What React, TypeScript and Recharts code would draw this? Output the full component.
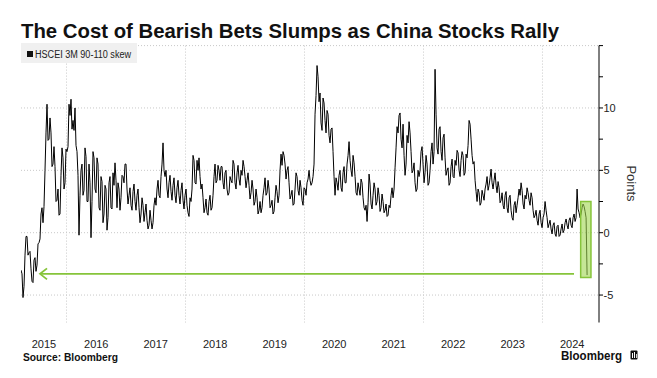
import React from 'react';
import { LineChart, Line, XAxis, YAxis, CartesianGrid, ReferenceLine, ReferenceArea } from 'recharts';

// HSCEI 3M 90-110 skew, sampled every ~6 days starting late March 2015
const START_YEAR = 2015.235;
const STEP_YEARS = 6.14 / 365.25;
const skew: number[] = [
  -3.0, -3.3, -5.2, -4.3, -1.8, -0.3, -0.3, -1.8, -1.6, -1.5,
  -2.9, -3.9, -4.0, -2.2, -2.0, -3.1, -2.6, -0.9, -0.8, -0.5,
  1.5, 2.0, 0.8, 2.1, 5.0, 8.0, 10.3, 7.4, 7.5, 9.2,
  8.0, 5.3, 5.5, 6.9, 5.3, 2.5, 2.6, 3.5, 1.4, 1.5,
  4.6, 6.8, 6.0, 3.5, 4.0, 6.7, 6.5, 6.9, 10.3, 9.4,
  10.7, 8.3, 9.0, 8.2, 10.0, 7.0, 6.5, 4.6, -0.2, 3.0,
  5.0, 5.5, 3.0, 3.4, 6.8, 6.1, 2.5, 2.5, 5.5, 4.0,
  -0.4, 2.5, 6.5, 6.0, 3.5, 3.2, 6.0, 5.5, 2.0, 1.8,
  4.5, 4.1, 0.8, 1.5, 3.8, 3.5, 0.2, 1.2, 4.0, 4.5,
  2.0, 1.9, 4.8, 3.8, 5.6, 4.2, 2.0, 4.0, 3.5, 1.8,
  2.8, 4.6, 4.5, 4.0, 5.5, 5.5, 3.5, 2.3, 3.0, 3.6,
  2.2, 1.8, 3.3, 3.9, 2.5, 1.8, 3.0, 3.5, 2.0, 0.8,
  1.5, 2.8, 2.2, 0.9, 1.6, 2.3, 1.0, 0.3, 0.6, 1.8,
  1.0, 0.3, 0.8, 2.2, 2.8, 2.2, 3.5, 4.2, 3.0, 2.8,
  4.5, 5.5, 7.2, 5.0, 4.5, 5.0, 3.5, 2.8, 4.0, 4.6,
  3.3, 2.6, 3.8, 4.4, 3.0, 2.4, 3.6, 4.2, 3.0, 2.3,
  3.4, 4.0, 2.6, 1.9, 3.0, 3.5, 2.2, 1.6, 1.3, 2.8,
  2.5, 3.5, 6.2, 5.8, 4.0, 3.9, 5.8, 5.0, 6.0, 4.5,
  3.5, 3.9, 2.8, 1.6, 2.0, 2.7, 1.6, 1.4, 2.5, 3.0,
  1.8, 2.0, 3.0, 4.5, 5.5, 4.0, 4.2, 5.4, 5.0, 4.2,
  5.3, 5.3, 4.0, 3.5, 4.8, 5.0, 3.5, 3.0, 3.2, 4.5,
  4.2, 4.0, 5.8, 5.5, 4.0, 3.5, 4.8, 5.4, 4.3, 3.8,
  5.0, 4.6, 5.8, 5.3, 4.5, 3.6, 4.2, 4.8, 3.8, 2.7,
  3.2, 4.2, 3.5, 2.2, 2.5, 3.5, 2.8, 1.5, 1.8, 2.5,
  1.6, 2.0, 3.0, 3.6, 4.4, 3.0, 3.2, 4.2, 3.5, 2.0,
  2.2, 2.6, 1.5, 1.7, 2.8, 3.8, 3.3, 2.4, 3.0, 5.0,
  6.3, 5.4, 6.5, 6.2, 5.5, 4.3, 5.0, 5.3, 4.0, 2.7,
  3.0, 3.4, 2.2, 2.3, 3.5, 4.8, 4.5, 3.4, 3.0, 4.2,
  3.6, 2.6, 2.2, 3.6, 3.5, 3.0, 4.0, 4.3, 5.0, 4.2,
  3.8, 4.0, 4.5, 5.5, 9.5, 11.0, 13.4, 12.5, 10.5, 11.2,
  8.8, 8.2, 10.8, 10.4, 9.0, 8.0, 9.8, 9.5, 7.8, 7.2,
  8.3, 8.4, 6.5, 4.5, 3.0, 4.4, 4.0, 3.4, 4.6, 5.0,
  3.6, 3.3, 4.8, 5.3, 4.0, 4.0, 5.5, 6.2, 7.3, 5.8,
  5.0, 4.5, 6.2, 5.6, 4.5, 3.2, 3.0, 4.0, 3.5, 3.0,
  4.3, 4.0, 2.8, 2.0, 1.8, 2.2, 0.9, 2.4, 4.7, 3.9,
  2.3, 1.9, 3.0, 4.0, 3.5, 2.2, 2.5, 3.6, 3.0, 1.7,
  2.0, 3.1, 2.5, 1.6, 1.8, 2.3, 1.3, 1.4, 2.2, 2.0,
  3.0, 3.6, 2.8, 3.5, 5.2, 6.8, 8.5, 8.0, 9.4, 9.6,
  7.5, 6.8, 8.7, 6.2, 4.6, 5.5, 7.8, 7.2, 8.9, 8.0,
  6.5, 4.8, 5.0, 5.6, 4.0, 3.3, 3.5, 5.0, 4.5, 5.0,
  6.5, 6.9, 5.5, 4.0, 4.8, 6.2, 5.5, 3.8, 4.0, 5.0,
  6.5, 7.2, 5.5, 6.5, 13.1, 9.5, 6.8, 6.3, 8.3, 8.5,
  6.5, 5.8, 7.6, 7.9, 6.0, 4.6, 5.0, 5.2, 3.8, 4.0,
  5.3, 5.9, 4.5, 4.4, 5.8, 5.4, 6.6, 6.4, 5.0, 4.5,
  5.8, 6.5, 6.2, 4.6, 4.8, 6.3, 6.0, 7.0, 9.0, 8.7,
  7.5, 6.2, 5.5, 5.7, 4.2, 3.3, 2.5, 3.5, 3.2, 2.2,
  2.4, 3.4, 3.0, 2.6, 3.5, 3.9, 4.5, 3.4, 3.8, 4.4,
  5.1, 4.0, 3.5, 4.2, 4.8, 3.8, 3.2, 4.1, 3.6, 2.4,
  2.6, 3.2, 2.2, 1.9, 3.0, 3.3, 2.0, 1.6, 2.8, 3.0,
  1.8, 1.2, 1.0, 2.2, 2.5, 1.6, 2.2, 2.8, 3.5, 3.0,
  4.0, 3.4, 2.3, 1.9, 3.0, 2.7, 3.6, 3.2, 2.6, 2.2,
  3.2, 2.8, 1.8, 1.2, 1.4, 1.8, 1.0, 0.6, 1.5, 1.8,
  0.8, 0.4, 1.2, 1.5, 2.5, 1.8, 1.2, 0.4, 0.7, 1.0,
  0.3, -0.1, 0.6, 0.8, -0.1, -0.3, 0.5, 0.6, -0.3, -0.2,
  0.3, 0.7, 0.0, 0.2, 0.8, 1.1, 0.6, 0.3, 1.0, 1.2,
  0.6, 0.4, 1.2, 1.5, 0.9, 1.2, 3.5, 1.9, 1.6, 1.2,
  1.5, 2.0, 2.3, 2.1, 1.7, 1.2, -3.4,
];

const xTickLabels = ['2015', '2016', '2017', '2018', '2019', '2020', '2021', '2022', '2023', '2024'];
const xTickPositions = [2015.62, 2016.5, 2017.5, 2018.5, 2019.5, 2020.5, 2021.5, 2022.5, 2023.5, 2024.5];
const gridYears = [2016, 2018, 2020, 2022, 2024];
const gridValues = [-5, 0, 5, 10, 15];
const yTicks = [-5, -2.5, 0, 2.5, 5, 7.5, 10, 12.5, 15];
const xDomain = [2015.235, 2024.95];
const yDomain = [-7.2, 15];

// annotation: arrow back to the 2015 level, box around the latest drop
const arrowLevel = -3.3;
const arrowTipYear = 2015.555;
const arrowTailYear = 2024.53;
const boxYears = [2024.642, 2024.815];
const boxValues = [-3.6, 2.5];

const data = skew.map((v, i) => ({ t: START_YEAR + i * STEP_YEARS, v }));

const FONT = '"Liberation Sans", Arial, sans-serif';
const GREEN = '#86c43a';

const XTick = (props: any) => {
  const { x, y, index } = props;
  return (
    <text x={x} y={y + 25} textAnchor="middle" fontSize={11} fill="#222" fontFamily={FONT}>
      {xTickLabels[index]}
    </text>
  );
};

const YTick = (props: any) => {
  const { x, y, payload } = props;
  const v = payload.value;
  const labelled = v % 5 === 0 && v !== 15;
  return (
    <g>
      <line x1={x} x2={x + 4} y1={y} y2={y} stroke="#000" strokeWidth={1} />
      {labelled && (
        <text x={x + 4.5} y={y + 4} fontSize={11} fill="#222" fontFamily={FONT}>
          {String(v)}
        </text>
      )}
    </g>
  );
};

const ArrowShape = (props: any) => {
  const { x1, y1, x2, y2 } = props;
  const tipX = Math.min(x1, x2);
  const tailX = Math.max(x1, x2);
  const yy = y1 ?? y2;
  return (
    <g>
      <line x1={tipX + 1} y1={yy} x2={tailX} y2={yy} stroke={GREEN} strokeWidth={1.8} />
      <polyline
        points={`${tipX + 7},${yy - 5.5} ${tipX},${yy} ${tipX + 7},${yy + 5.5}`}
        fill="none"
        stroke={GREEN}
        strokeWidth={1.8}
      />
    </g>
  );
};

export default function App() {
  return (
    <div
      style={{
        position: 'absolute',
        left: 0,
        top: 0,
        width: 657,
        height: 378,
        background: '#fff',
        overflow: 'hidden',
        fontFamily: FONT,
      }}
    >
      <LineChart width={657} height={378} data={data} margin={{ top: 45.6, right: 0, left: 21, bottom: 25.5 }}>
        <CartesianGrid
          stroke="#c8c8c8"
          strokeDasharray="1 2"
          horizontalValues={gridValues}
          verticalValues={gridYears}
        />
        <XAxis
          type="number"
          dataKey="t"
          domain={xDomain}
          allowDataOverflow
          ticks={xTickPositions}
          interval={0}
          axisLine={false}
          tickLine={false}
          tickSize={0}
          tickMargin={0}
          height={30}
          tick={<XTick />}
        />
        <YAxis
          orientation="right"
          type="number"
          domain={yDomain}
          allowDataOverflow
          ticks={yTicks}
          interval={0}
          width={58}
          axisLine={{ stroke: '#000', strokeWidth: 1 }}
          tickLine={false}
          tickSize={0}
          tickMargin={0}
          tick={<YTick />}
        />
        <Line
          type="linear"
          dataKey="v"
          stroke="#000"
          strokeWidth={1}
          dot={false}
          activeDot={false}
          isAnimationActive={false}
        />
        <ReferenceLine
          segment={[
            { x: arrowTipYear, y: arrowLevel },
            { x: arrowTailYear, y: arrowLevel },
          ]}
          shape={<ArrowShape />}
          ifOverflow="visible"
        />
        <ReferenceArea
          x1={boxYears[0]}
          x2={boxYears[1]}
          y1={boxValues[0]}
          y2={boxValues[1]}
          fill="#9fd64f"
          fillOpacity={0.6}
          stroke={GREEN}
          strokeWidth={1.5}
          zIndex={600}
          ifOverflow="visible"
        />
      </LineChart>
      <svg
        width={657}
        height={378}
        style={{ position: 'absolute', left: 0, top: 0, pointerEvents: 'none' }}
      >
        <text
          x={21}
          y={38}
          fontSize={21}
          fontWeight={700}
          fill="#111"
          fontFamily={FONT}
          textLength={538}
          lengthAdjust="spacingAndGlyphs"
        >
          The Cost of Bearish Bets Slumps as China Stocks Rally
        </text>
        <rect x={21} y={43} width={116} height={20} fill="#f0f0f0" />
        <rect x={27} y={51} width={6} height={6} fill="#111" />
        <text x={35} y={57.5} fontSize={10} fill="#222" fontFamily={FONT} textLength={96} lengthAdjust="spacingAndGlyphs">
          HSCEI 3M 90-110 skew
        </text>
        <text
          x={0}
          y={0}
          fontSize={13}
          fill="#333"
          fontFamily={FONT}
          textAnchor="middle"
          transform="translate(627,183.5) rotate(90)"
        >
          Points
        </text>
        <text x={23} y={361} fontSize={10.5} fontWeight={700} fill="#111" fontFamily={FONT} textLength={95} lengthAdjust="spacingAndGlyphs">
          Source: Bloomberg
        </text>
        <text x={561} y={360} fontSize={13} fontWeight={700} fill="#111" fontFamily={FONT} textLength={61} lengthAdjust="spacingAndGlyphs">
          Bloomberg
        </text>
        <rect x={630.5} y={350.5} width={7} height={9} rx={1} fill="#111" />
        <rect x={632} y={353} width={1} height={5} fill="#fff" />
        <rect x={634} y={352} width={1} height={6} fill="#fff" />
        <rect x={636} y={354} width={0.8} height={4} fill="#fff" />
      </svg>
    </div>
  );
}
